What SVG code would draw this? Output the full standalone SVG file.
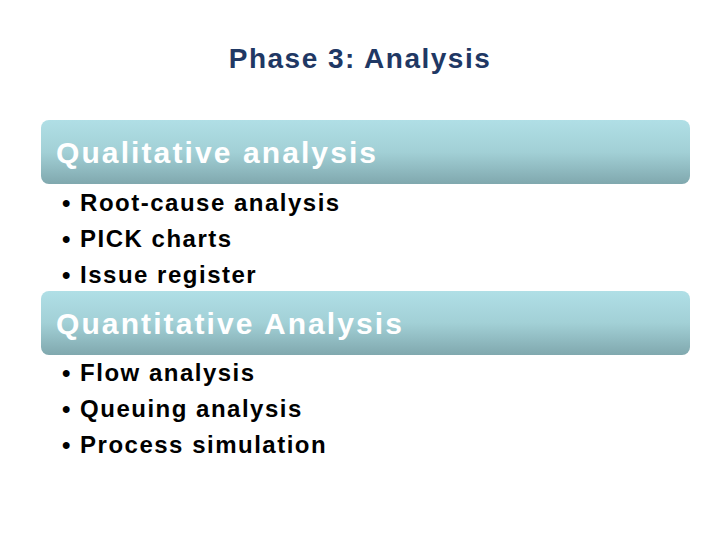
<svg xmlns="http://www.w3.org/2000/svg" width="720" height="540" viewBox="0 0 720 540">
<defs>
<linearGradient id="g" x1="0" y1="0" x2="0" y2="1">
<stop offset="0" stop-color="#b0dfe6"/><stop offset="0.5" stop-color="#a2d0d6"/><stop offset="1" stop-color="#80a8ae"/>
</linearGradient>
<style>
.h{font-family:"Liberation Sans",Arial,sans-serif;font-size:30px;font-weight:bold;letter-spacing:2.1px;fill:#fff}
.b{font-family:"Liberation Sans",Arial,sans-serif;font-size:24px;font-weight:bold;letter-spacing:1.5px;fill:#000}
.t{font-family:"Liberation Sans",Arial,sans-serif;font-size:28px;font-weight:bold;letter-spacing:1.5px;fill:#1f3864}
</style>
</defs>
<rect width="720" height="540" fill="#fff"/>
<text class="t" x="360" y="68" text-anchor="middle">Phase 3: Analysis</text>
<g id="qual">
<rect x="41" y="120" width="649" height="64" rx="8" fill="url(#g)"/>
<text class="h" x="56" y="163">Qualitative analysis</text>
<text class="b" x="62" y="211">• Root-cause analysis</text>
<text class="b" x="62" y="247">• PICK charts</text>
<text class="b" x="62" y="283">• Issue register</text>
</g>
<g id="quant">
<rect x="41" y="291" width="649" height="64" rx="8" fill="url(#g)"/>
<text class="h" x="56" y="334">Quantitative Analysis</text>
<text class="b" x="62" y="381">• Flow analysis</text>
<text class="b" x="62" y="417">• Queuing analysis</text>
<text class="b" x="62" y="453">• Process simulation</text>
</g>
<g id="connectors"/>
</svg>
